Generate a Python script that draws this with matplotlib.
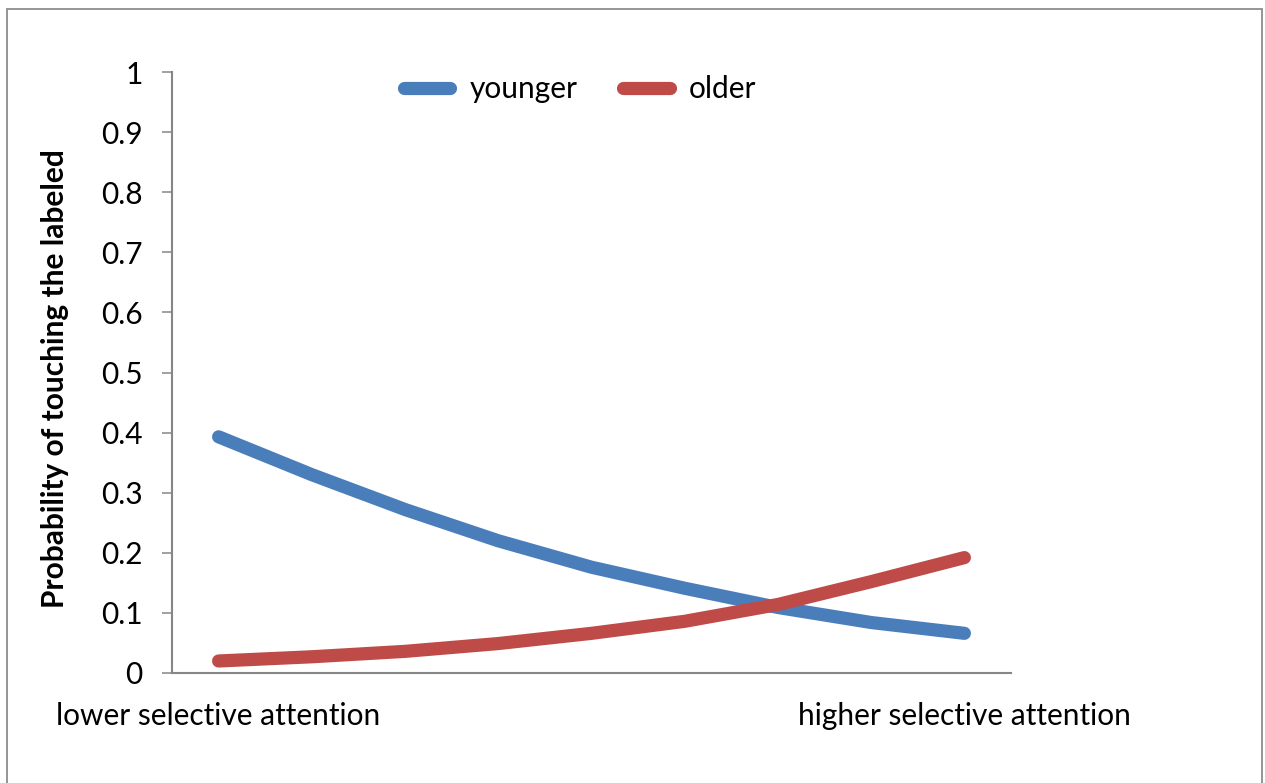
import matplotlib
matplotlib.use("Agg")
import matplotlib.pyplot as plt
from matplotlib.patches import Rectangle

# Predicted probability across nine levels of selective attention
categories = ["lower selective attention", "", "", "", "", "", "", "",
              "higher selective attention"]
younger = [0.393, 0.330, 0.272, 0.220, 0.176, 0.141, 0.109, 0.084, 0.066]
older = [0.020, 0.027, 0.036, 0.049, 0.066, 0.086, 0.114, 0.152, 0.192]
y_ticks = [0, 0.1, 0.2, 0.3, 0.4, 0.5, 0.6, 0.7, 0.8, 0.9, 1]
y_tick_labels = ["0", "0.1", "0.2", "0.3", "0.4", "0.5", "0.6", "0.7", "0.8", "0.9", "1"]

BLUE = "#4A7EBB"
RED = "#BE4B48"
AXIS_GRAY = "#868686"
FS = 21.5

plt.rcParams["font.family"] = ["Lato", "DejaVu Sans"]

W, H = 1265, 783
fig = plt.figure(figsize=(W / 100, H / 100), dpi=100)
fig.patch.set_facecolor("white")

# outer chart frame
fig.patches.append(Rectangle((7 / W, -0.05), (1262 - 7) / W, 1.05 - 9 / H,
                             transform=fig.transFigure, fill=False,
                             edgecolor="#8c8c8c", linewidth=1.3))

ax = fig.add_axes([172 / W, 1 - 673 / H, (1011 - 172) / W, (673 - 72) / H])
x = list(range(len(categories)))
ax.plot(x, younger, color=BLUE, linewidth=9.5, solid_capstyle="round",
        solid_joinstyle="round", label="younger")
ax.plot(x, older, color=RED, linewidth=9.5, solid_capstyle="round",
        solid_joinstyle="round", label="older")

ax.set_xlim(-0.5, len(categories) - 0.5)
ax.set_ylim(0, 1)
ax.set_yticks(y_ticks)
ax.set_yticklabels(y_tick_labels, fontsize=FS)
ax.set_xticks(x)
ax.set_xticklabels(categories, fontsize=FS)
ax.tick_params(axis="y", length=7, width=1.1, color=AXIS_GRAY, pad=14)
ax.tick_params(axis="x", length=0, pad=21)

for side in ("top", "right"):
    ax.spines[side].set_visible(False)
for side in ("left", "bottom"):
    ax.spines[side].set_color(AXIS_GRAY)
    ax.spines[side].set_linewidth(1.5)

ax.set_ylabel("Probability of touching the labeled", fontsize=FS,
              fontweight="bold")
ax.yaxis.set_label_coords(-0.123, 0.49)

leg = ax.legend(loc="center", bbox_to_anchor=(580 / W, 1 - 89 / H),
                bbox_transform=fig.transFigure, ncol=2, frameon=False,
                fontsize=FS, handlelength=1.57, handletextpad=0.65,
                columnspacing=1.5)

fig.savefig("out.png", dpi=100, facecolor="white")
